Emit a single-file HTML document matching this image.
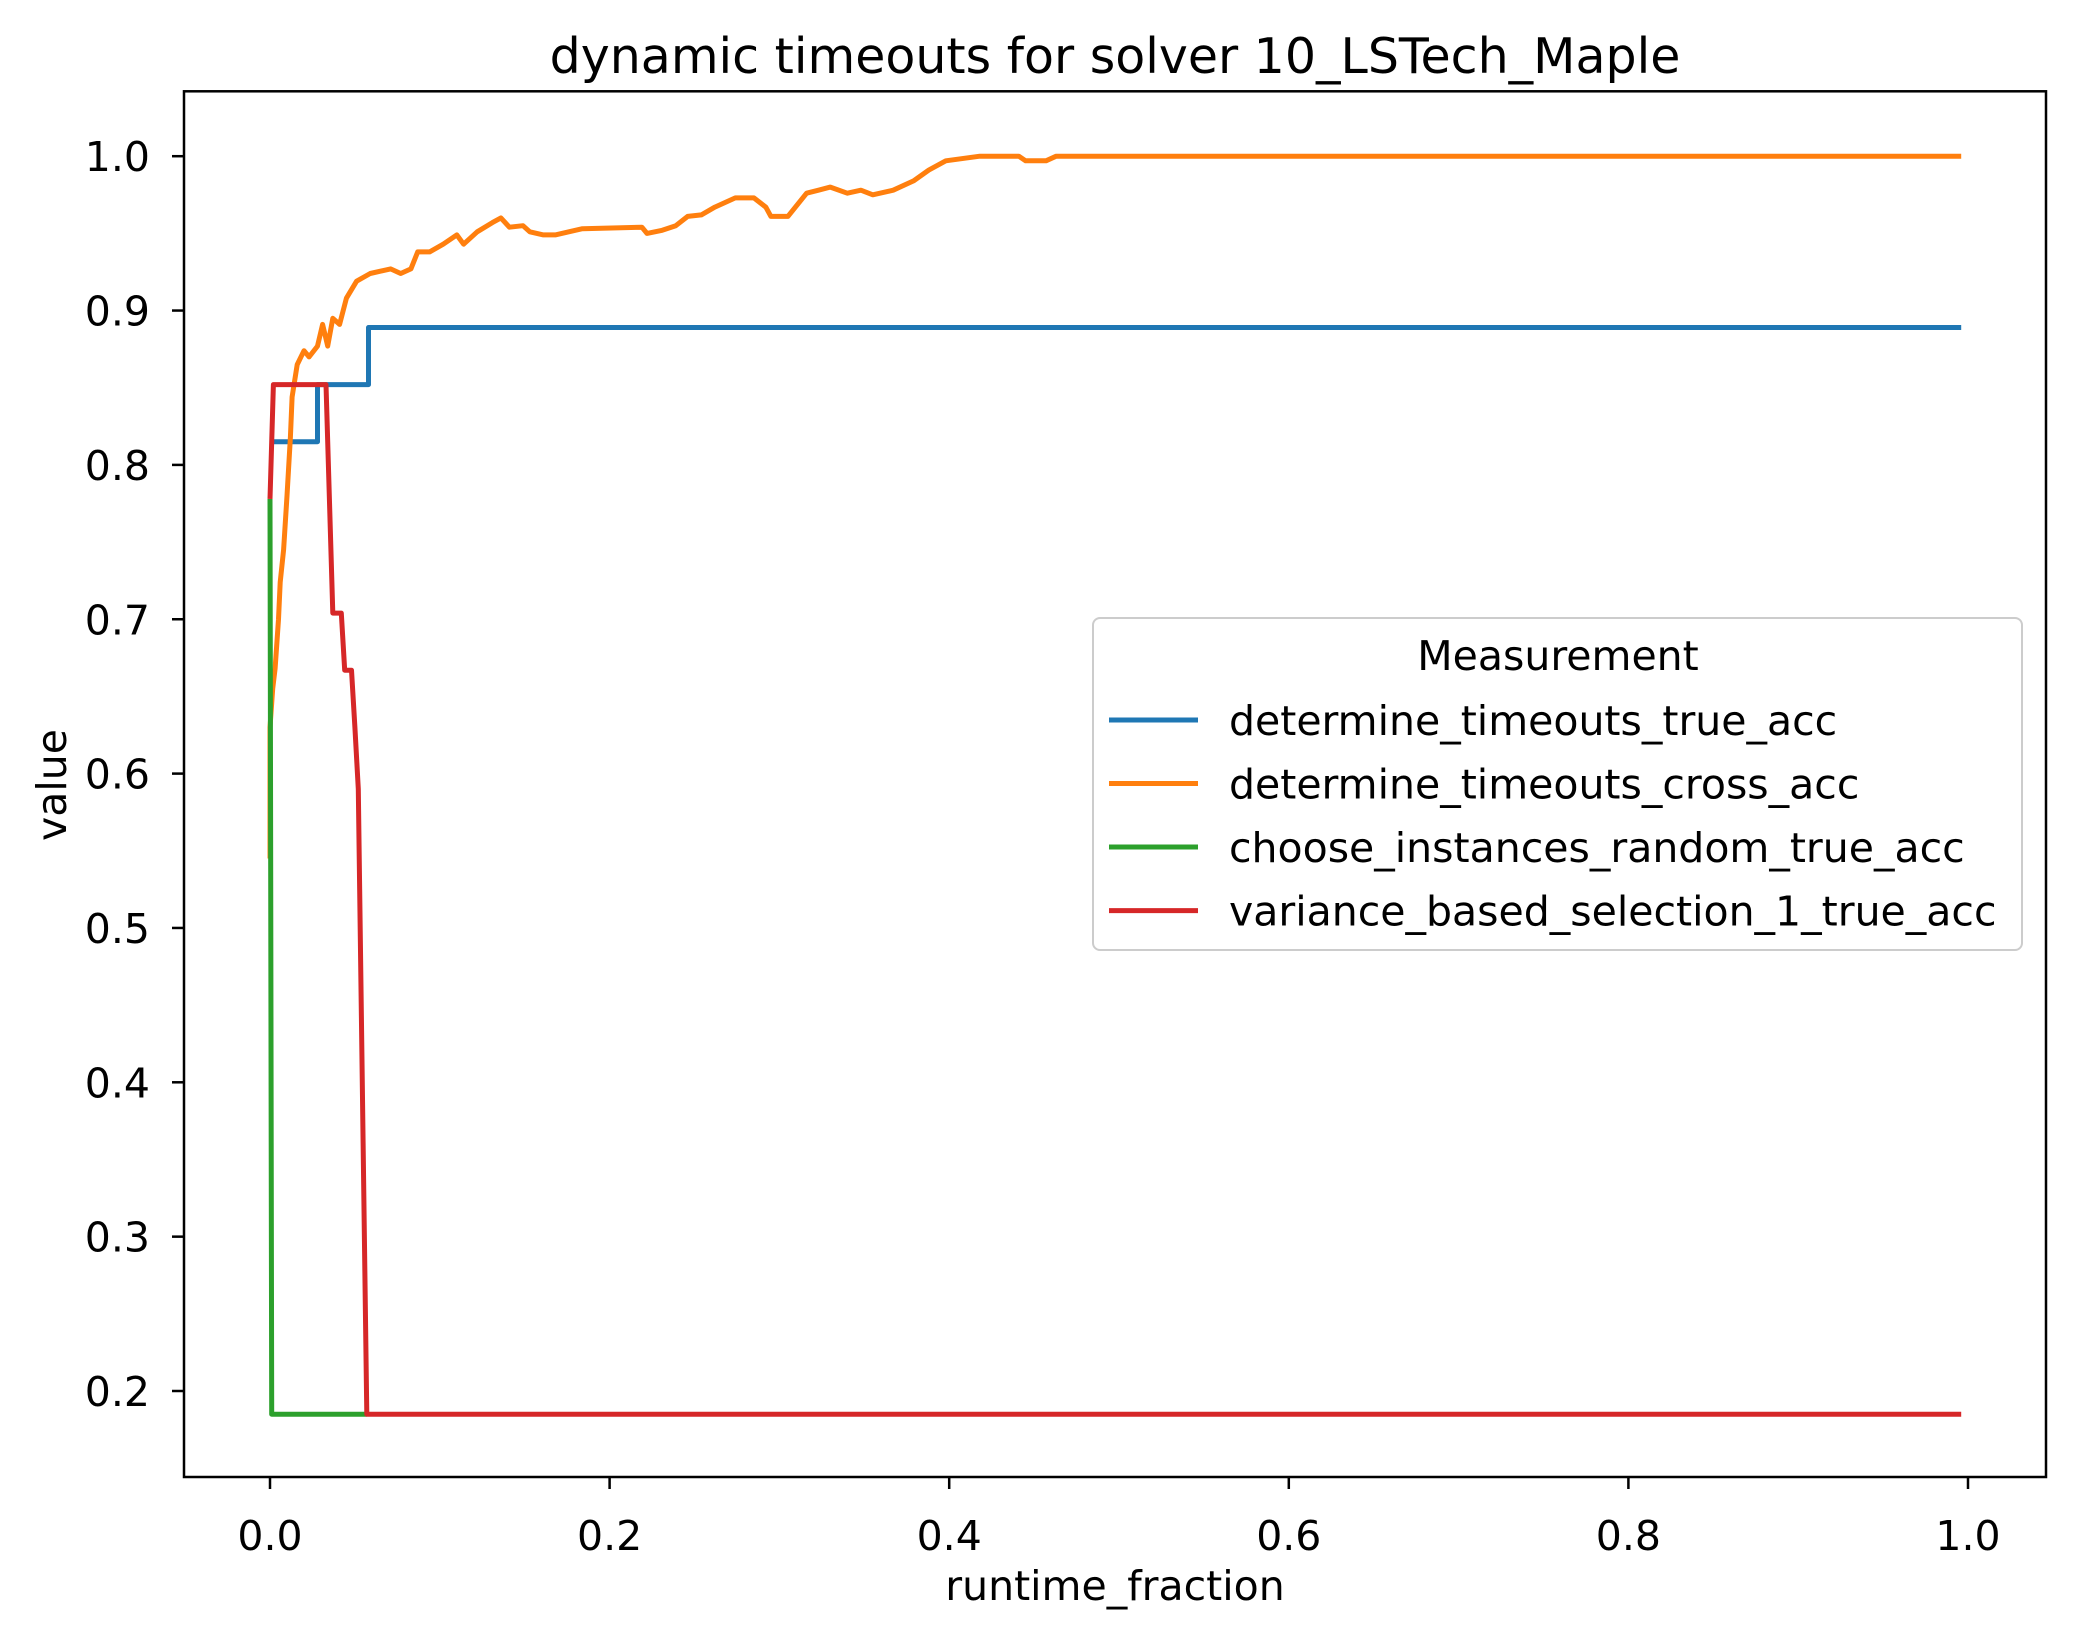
<!DOCTYPE html>
<html><head><meta charset="utf-8"><style>
html,body{margin:0;padding:0;background:#fff;}
svg text{font-family:"DejaVu Sans","Liberation Sans",sans-serif;fill:#000;}
</style></head><body>
<svg id="chart" width="2074" height="1639" xmlns="http://www.w3.org/2000/svg">
<rect width="2074" height="1639" fill="#fff"/>
<text x="1115" y="73" font-size="49" text-anchor="middle">dynamic timeouts for solver 10_LSTech_Maple</text>
<g id="series"></g>
<g id="axes"></g>
<text x="1115" y="1600" font-size="41" text-anchor="middle">runtime_fraction</text>
<text x="66" y="785" font-size="41" text-anchor="middle" transform="rotate(-90 66 785)">value</text>
<g>
<rect x="1093" y="618" width="929" height="332" rx="7" fill="#fff" fill-opacity="0.8" stroke="#ccc" stroke-width="2"/>
<text x="1558" y="670" font-size="41" text-anchor="middle">Measurement</text>
<g><line x1="1109" y1="720" x2="1198" y2="720" stroke="#1f77b4" stroke-width="5"/><text x="1229" y="735" font-size="41">determine_timeouts_true_acc</text></g>
<g><line x1="1109" y1="783.5" x2="1198" y2="783.5" stroke="#ff7f0e" stroke-width="5"/><text x="1229" y="798.5" font-size="41">determine_timeouts_cross_acc</text></g>
<g><line x1="1109" y1="847" x2="1198" y2="847" stroke="#2ca02c" stroke-width="5"/><text x="1229" y="862" font-size="41">choose_instances_random_true_acc</text></g>
<g><line x1="1109" y1="910.6" x2="1198" y2="910.6" stroke="#d62728" stroke-width="5"/><text x="1229" y="925.6" font-size="41">variance_based_selection_1_true_acc</text></g>
</g>
</svg>
<script>
const xTicks=[0.0,0.2,0.4,0.6,0.8,1.0];
const yTicks=[0.2,0.3,0.4,0.5,0.6,0.7,0.8,0.9,1.0];
const blueX=[0,0.028,0.028,0.058,0.058,0.996];
const blueY=[0.815,0.815,0.852,0.852,0.889,0.889];
const orangeX=[0,0,0.0016,0.003,0.005,0.006,0.008,0.010,0.012,0.013,0.016,0.02,0.023,0.028,0.031,0.034,0.037,0.041,0.045,0.051,0.059,0.071,0.077,0.083,0.087,0.094,0.102,0.11,0.114,0.122,0.131,0.136,0.141,0.149,0.153,0.161,0.168,0.176,0.184,0.219,0.222,0.231,0.239,0.246,0.254,0.262,0.274,0.285,0.292,0.295,0.305,0.316,0.323,0.33,0.34,0.348,0.355,0.367,0.379,0.388,0.398,0.418,0.441,0.445,0.457,0.463,0.996];
const orangeY=[0.545,0.63,0.655,0.668,0.70,0.724,0.745,0.78,0.818,0.844,0.865,0.874,0.87,0.877,0.891,0.877,0.895,0.891,0.908,0.919,0.924,0.927,0.924,0.927,0.938,0.938,0.943,0.949,0.943,0.951,0.957,0.96,0.954,0.955,0.951,0.949,0.949,0.951,0.953,0.954,0.950,0.952,0.955,0.961,0.962,0.967,0.973,0.973,0.967,0.961,0.961,0.976,0.978,0.98,0.976,0.978,0.975,0.978,0.984,0.991,0.997,1.0,1.0,0.997,0.997,1.0,1.0];
const greenX=[0,0.001,0.057];
const greenY=[0.778,0.185,0.185];
const redX=[0,0.002,0.033,0.037,0.042,0.044,0.048,0.050,0.052,0.057,0.996];
const redY=[0.778,0.852,0.852,0.704,0.704,0.667,0.667,0.63,0.59,0.185,0.185];

const X0=270,X1=1968,Y1=156.2,Y02=1391;
function sx(v){return X0+(X1-X0)*v;}
function sy(v){return Y02+(Y1-Y02)*(v-0.2)/0.8;}
const NS="http://www.w3.org/2000/svg";
const series=document.getElementById('series');
function line(xs,ys,color,name){
  const p=document.createElementNS(NS,'polyline');
  p.setAttribute('points',xs.map((x,i)=>sx(x).toFixed(1)+','+sy(ys[i]).toFixed(1)).join(' '));
  p.setAttribute('fill','none');p.setAttribute('stroke',color);p.setAttribute('stroke-width','5');
  p.setAttribute('stroke-linejoin','round');
  
  
  series.appendChild(p);
}
line(blueX,blueY,'#1f77b4','determine-timeouts-true-acc-line');
line(orangeX,orangeY,'#ff7f0e','determine-timeouts-cross-acc-line');
line(greenX,greenY,'#2ca02c','choose-instances-random-true-acc-line');
line(redX,redY,'#d62728','variance-based-selection-true-acc-line');

const axes=document.getElementById('axes');
const L=184,R=2046,T=91.3,B=1477;
const fr=document.createElementNS(NS,'rect');
fr.setAttribute('x',L);fr.setAttribute('y',T);fr.setAttribute('width',R-L);fr.setAttribute('height',B-T);
fr.setAttribute('fill','none');fr.setAttribute('stroke','#000');fr.setAttribute('stroke-width','2.5');


axes.appendChild(fr);
xTicks.forEach(v=>{
  const t=document.createElementNS(NS,'line');
  t.setAttribute('x1',sx(v));t.setAttribute('x2',sx(v));t.setAttribute('y1',B);t.setAttribute('y2',B+12);
  t.setAttribute('stroke','#000');t.setAttribute('stroke-width','2.5');
  
  
  axes.appendChild(t);
  const tx=document.createElementNS(NS,'text');
  tx.setAttribute('x',sx(v));tx.setAttribute('y',1550);tx.setAttribute('font-size','41');tx.setAttribute('text-anchor','middle');
  tx.textContent=v.toFixed(1);
  
  
  axes.appendChild(tx);
});
yTicks.forEach(v=>{
  const t=document.createElementNS(NS,'line');
  t.setAttribute('x1',L-12);t.setAttribute('x2',L);t.setAttribute('y1',sy(v));t.setAttribute('y2',sy(v));
  t.setAttribute('stroke','#000');t.setAttribute('stroke-width','2.5');
  
  
  axes.appendChild(t);
  const tx=document.createElementNS(NS,'text');
  tx.setAttribute('x',150);tx.setAttribute('y',sy(v)+15);tx.setAttribute('font-size','41');tx.setAttribute('text-anchor','end');
  tx.textContent=v.toFixed(1);
  
  
  axes.appendChild(tx);
});
</script>
</body></html>
